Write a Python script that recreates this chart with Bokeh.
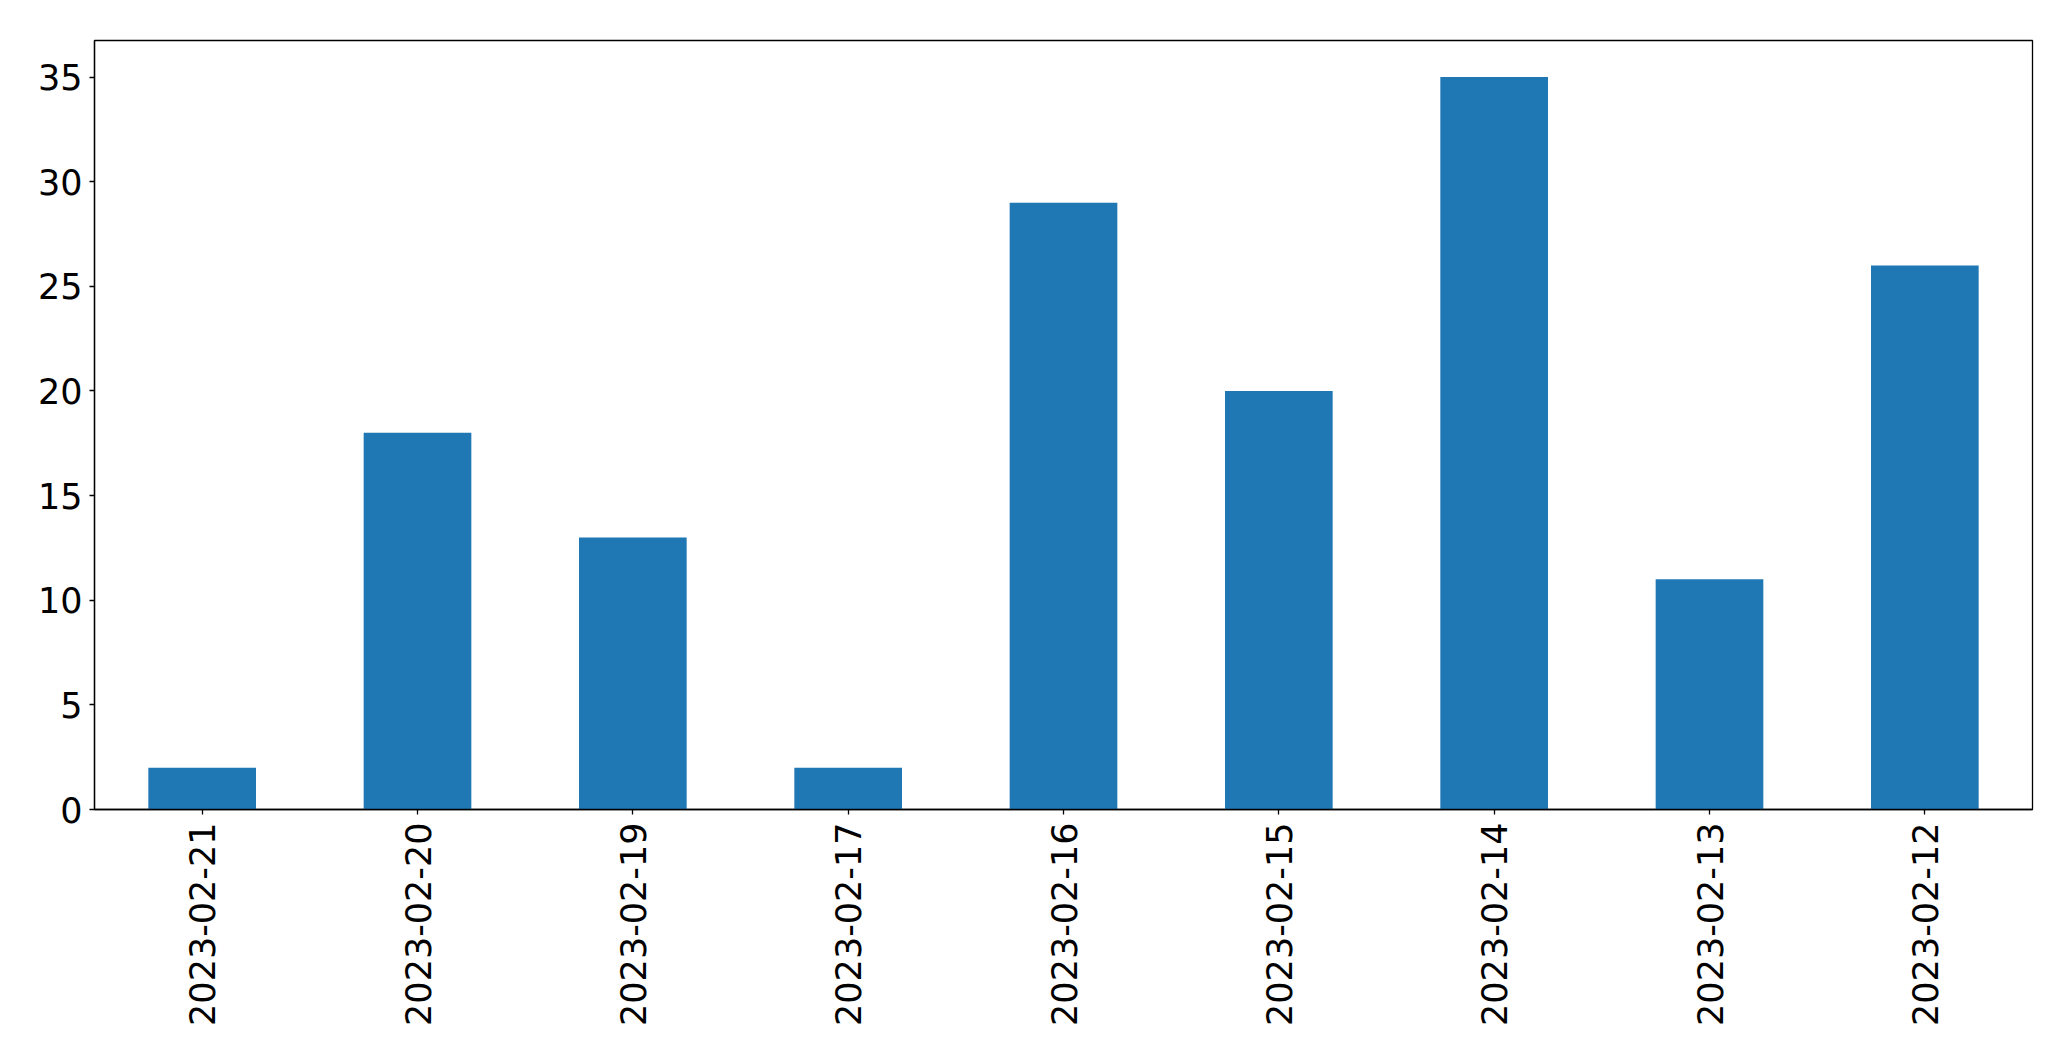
import math
from bokeh.plotting import figure
from bokeh.models import FactorRange, Range1d, FixedTicker, ColumnDataSource
from bokeh.embed import file_html
from bokeh.resources import INLINE

dates = ["2023-02-21", "2023-02-20", "2023-02-19", "2023-02-17", "2023-02-16",
         "2023-02-15", "2023-02-14", "2023-02-13", "2023-02-12"]
counts = [2, 18, 13, 2, 29, 20, 35, 11, 26]
y_ticks = [0, 5, 10, 15, 20, 25, 30, 35]

src = ColumnDataSource(dict(x=dates, y=counts))

p = figure(width=2071, height=1061, x_range=FactorRange(*dates),
           y_range=Range1d(0, 36.75), output_backend="svg", toolbar_location=None,
           min_border_left=94, min_border_right=39, min_border_top=40, min_border_bottom=252)

p.vbar(x="x", top="y", width=0.5, source=src, fill_color="#1f77b4", line_color=None)

p.xgrid.visible = False
p.ygrid.visible = False
p.outline_line_color = "black"
p.outline_line_width = 1.3

for ax in (p.xaxis[0], p.yaxis[0]):
    ax.major_label_text_font = "DejaVu Sans"
    ax.major_label_text_font_size = "35px"
    ax.major_label_text_color = "black"
    ax.axis_line_color = "black"
    ax.axis_line_width = 1.3
    ax.major_tick_line_color = "black"
    ax.major_tick_line_width = 1.3
    ax.major_tick_out = 5
    ax.major_tick_in = 0
    ax.minor_tick_line_color = None

p.yaxis.major_label_standoff = 7
p.xaxis.major_label_standoff = 8
p.yaxis.ticker = FixedTicker(ticks=y_ticks)
p.xaxis.major_label_orientation = math.pi / 2
p.xaxis.group_text_font_size = "0px"

open("out.html", "w").write(file_html(p, INLINE))
